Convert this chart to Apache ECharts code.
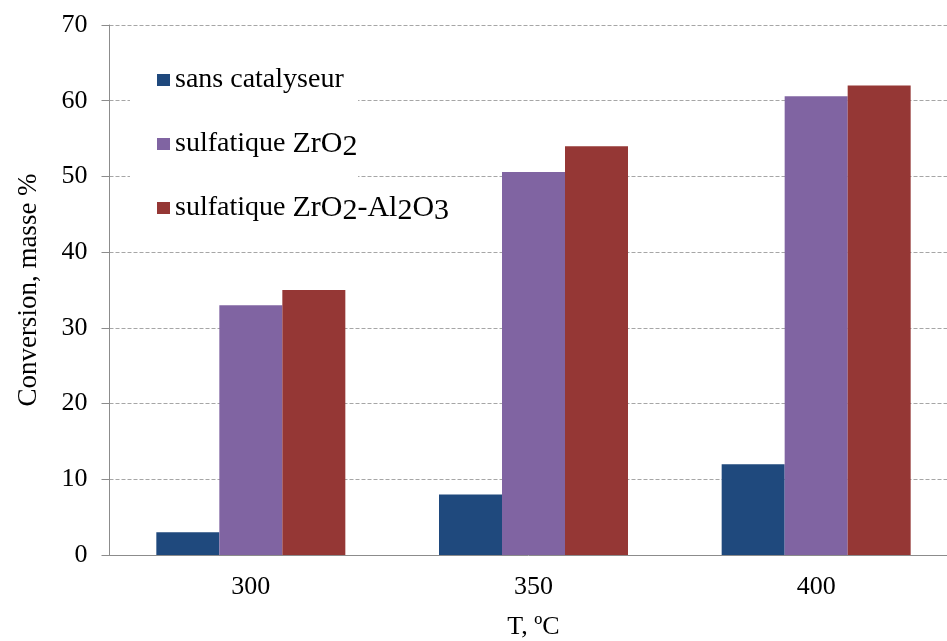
<!DOCTYPE html>
<html>
<head>
<meta charset="utf-8">
<script src="https://cdn.jsdelivr.net/npm/echarts@6/dist/echarts.min.js"></script>
<style>html,body{margin:0;padding:0;background:#fff}#c{width:947px;height:641px}</style>
</head>
<body>
<div id="c"></div>
<script>
const categories = ['300', '350', '400'];
const seriesNames = ['sans catalyseur', 'sulfatique ZrO2', 'sulfatique ZrO2-Al2O3'];
const sansCatalyseur = [3, 8, 12];
const sulfZrO2 = [33, 50.6, 60.6];
const sulfZrO2Al2O3 = [35, 54, 62];
const yTicks = [0, 10, 20, 30, 40, 50, 60, 70];

const SERIF = "'Liberation Serif','Times New Roman',serif";
const chart = echarts.init(document.getElementById('c'), null, {renderer: 'canvas'});
const legendLabels = {
  'sans catalyseur': '{a|sans catalyseur}',
  'sulfatique ZrO2': '{a|sulfatique }{b|ZrO}{s|2}',
  'sulfatique ZrO2-Al2O3': '{a|sulfatique }{b|ZrO}{s|2}{b|-Al}{s|2}{b|O}{s|3}'
};
const colors = ['#1f497d', '#8064a2', '#953735'];
const vals = [sansCatalyseur, sulfZrO2, sulfZrO2Al2O3];
const legendTops = [66, 126, 190];
const richStyles = {
  a: {fontFamily: SERIF, fontSize: 28, color: '#000', lineHeight: 34, verticalAlign: 'middle'},
  b: {fontFamily: SERIF, fontSize: 30, color: '#000', lineHeight: 34, verticalAlign: 'middle'},
  s: {fontFamily: SERIF, fontSize: 30, color: '#000', lineHeight: 28, verticalAlign: 'middle', padding: [6, 0, 0, 0]}
};
chart.setOption({
  animation: false,
  backgroundColor: '#fff',
  color: colors,
  grid: {left: 109.5, width: 848, top: 25, bottom: 86, containLabel: false, outerBoundsMode: 'none'},
  graphic: [{type: 'rect', left: 130, top: 42, z: 1, shape: {width: 228, height: 188}, style: {fill: '#fff'}}],
  legend: seriesNames.map((n, i) => ({
    orient: 'vertical', left: 157, top: legendTops[i], itemWidth: 13, itemHeight: 12,
    icon: 'rect', z: 5, padding: 0,
    data: [n],
    formatter: nm => legendLabels[nm],
    textStyle: {fontFamily: SERIF, color: '#000', rich: richStyles}
  })),
  xAxis: {
    type: 'category', data: categories,
    axisLine: {lineStyle: {color: '#8c8c8c', width: 1}},
    axisTick: {show: false},
    axisLabel: {fontFamily: SERIF, fontSize: 26, color: '#000', margin: 19},
    name: 'T, ºC', nameLocation: 'middle', nameGap: 59,
    nameTextStyle: {fontFamily: SERIF, fontSize: 26, color: '#000'}
  },
  yAxis: {
    type: 'value', min: 0, max: 70, interval: 10,
    axisLine: {show: true, lineStyle: {color: '#8c8c8c', width: 1}},
    axisTick: {show: true, length: 8, inside: false, lineStyle: {color: '#8c8c8c'}},
    axisLabel: {fontFamily: SERIF, fontSize: 26, color: '#000', margin: 22,
      formatter: v => yTicks.indexOf(v) >= 0 ? String(v) : ''},
    splitLine: {show: true, lineStyle: {color: '#a6a6a6', type: [4, 2], width: 1}},
    name: 'Conversion, masse %', nameLocation: 'middle', nameGap: 67,
    nameTextStyle: {fontFamily: SERIF, fontSize: 27, color: '#000'}
  },
  series: seriesNames.map((n, i) => ({
    name: n, type: 'bar', data: vals[i], barWidth: 63, barGap: '0%',
    itemStyle: {color: colors[i]}
  }))
});
</script>
</body>
</html>
